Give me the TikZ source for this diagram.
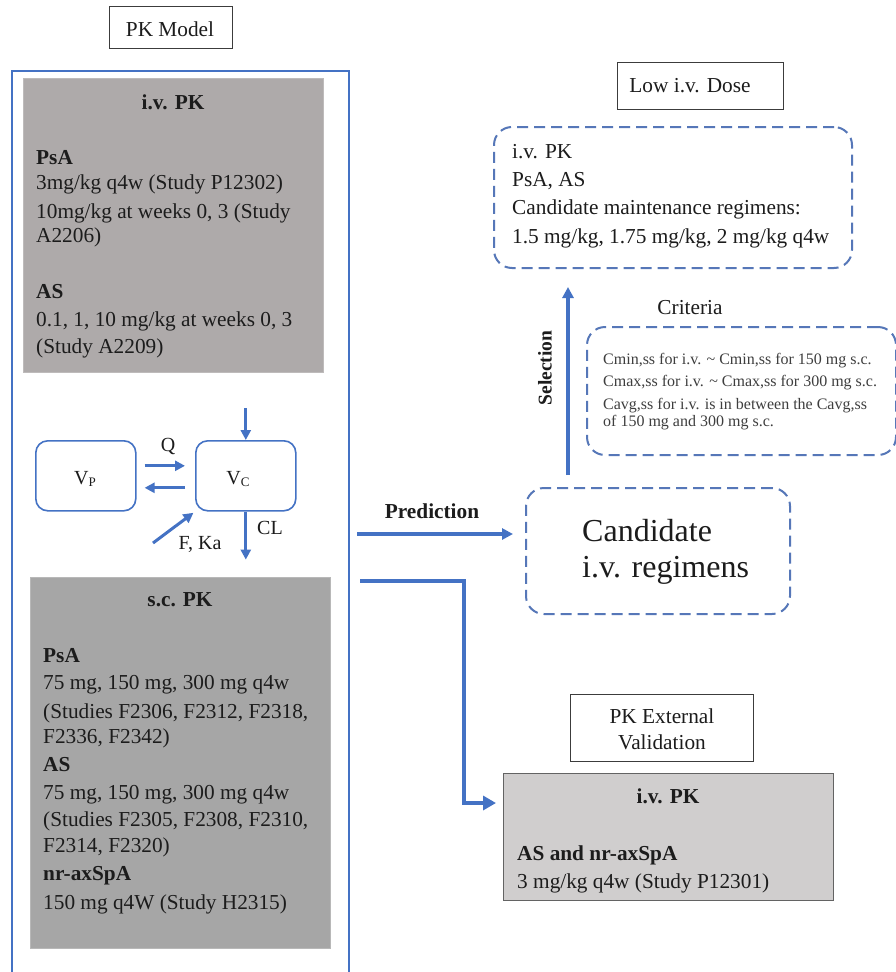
\documentclass[tikz,border=0pt]{standalone}
\usepackage{fontspec}
\setmainfont{Liberation Serif}
\usetikzlibrary{arrows.meta,calc}

\definecolor{lineblue}{HTML}{4472C4}
\definecolor{dashblue}{HTML}{5677B8}
\definecolor{ivgray}{HTML}{AEAAAA}
\definecolor{scgray}{HTML}{A6A6A6}
\definecolor{extgray}{HTML}{D0CECE}
\definecolor{ink}{HTML}{1C1C1C}
\definecolor{frame}{HTML}{3C3C3C}

\newcommand{\fsn}{\fontsize{21.3}{25}\selectfont}
\newcommand{\fsbig}{\fontsize{32}{36}\selectfont}
\newcommand{\fssmall}{\fontsize{16}{18}\selectfont}
\newcommand{\subP}[1]{\raisebox{-2pt}{\fontsize{13}{13}\selectfont #1}}

\tikzset{
  boxat/.style 2 args={anchor=north west, inner sep=0pt, minimum width=#1, minimum height=#2},
  titlebox/.style={draw=frame, line width=1.1pt, fill=white},
  dashbox/.style={draw=dashblue, line width=2pt, dash pattern=on 11pt off 6pt, rounded corners=18pt},
  compbox/.style={draw=lineblue, line width=1.6pt, rounded corners=12pt, fill=white},
  txt/.style={anchor=base west, inner sep=0pt, text=ink, font=\fsn},
  ctxt/.style={anchor=base, inner sep=0pt, text=ink, font=\fsn},
  arrs/.style={draw=lineblue, line width=3pt, -{Triangle[length=10pt,width=10pt]}},
  arrb/.style={draw=lineblue, line width=3.2pt, -{Triangle[length=11pt,width=11pt]}},
  arrl/.style={draw=lineblue, line width=3.6pt, -{Triangle[length=13pt,width=14pt]}},
}

\begin{document}
\begin{tikzpicture}[x=1pt,y=-1pt]
\useasboundingbox[fill=white] (0,0) rectangle (896,972);

% ---------- PK model column ----------
\node[titlebox, boxat={123pt}{42pt}] (pkm) at (109,6) {};
\node[ctxt] at (170,36) {PK Model};

\node[draw=lineblue, line width=1.8pt, boxat={337pt}{940pt}] (model) at (11,70) {};

% i.v. PK data
\node[fill=ivgray, draw=ivgray!80!white, line width=0.6pt, boxat={300pt}{294pt}] (ivbox) at (23,78) {};
\node[ctxt, font=\fsn\bfseries] at (173,109) {i.v. PK};
\node[txt, font=\fsn\bfseries] at (36,164) {PsA};
\node[txt] at (36,189) {3mg/kg q4w (Study P12302)};
\node[txt] at (36,218) {10mg/kg at weeks 0, 3 (Study};
\node[txt] at (36,242) {A2206)};
\node[txt, font=\fsn\bfseries] at (36,298) {AS};
\node[txt] at (36,326) {0.1, 1, 10 mg/kg at weeks 0, 3};
\node[txt] at (36,353) {(Study A2209)};

% two-compartment structure
\node[compbox, boxat={100pt}{70pt}] (vp) at (35,440) {};
\node[compbox, boxat={100pt}{70pt}] (vc) at (195,440) {};
\node[ctxt, font=\fontsize{20}{22}\selectfont] at (85,484) {V\subP{P}};
\node[ctxt, font=\fontsize{20}{22}\selectfont] at (238,484) {V\subP{C}};
\node[ctxt, font=\fontsize{20}{22}\selectfont] at (168,451) {Q};
\node[ctxt, font=\fontsize{20}{22}\selectfont] at (200,549) {F, Ka};
\node[ctxt, font=\fontsize{20}{22}\selectfont] at (270,534) {CL};

\draw[arrs, shorten <=8pt, shorten >=10pt] ([yshift=10pt]vp.east) -- ([yshift=10pt]vc.west);
\draw[arrs, shorten <=10pt, shorten >=8pt] ([yshift=-12pt]vc.west) -- ([yshift=-12pt]vp.east);
\draw[arrs] ([yshift=32pt]vc.north) -- (vc.north);
\draw[arrs] (vc.south) -- ([yshift=-48pt]vc.south);
\coordinate (fka) at (153,543);
\draw[arrs, shorten >=2pt] (fka) -- (vc.south west);

% s.c. PK data
\node[fill=scgray, draw=scgray!80!white, line width=0.6pt, boxat={300pt}{371pt}] (scbox) at (30,577) {};
\node[ctxt, font=\fsn\bfseries] at (180,606) {s.c. PK};
\node[txt, font=\fsn\bfseries] at (43,662) {PsA};
\node[txt] at (43,689) {75 mg, 150 mg, 300 mg q4w};
\node[txt] at (43,718) {(Studies F2306, F2312, F2318,};
\node[txt] at (43,743) {F2336, F2342)};
\node[txt, font=\fsn\bfseries] at (43,771) {AS};
\node[txt] at (43,799) {75 mg, 150 mg, 300 mg q4w};
\node[txt] at (43,826) {(Studies F2305, F2308, F2310,};
\node[txt] at (43,852) {F2314, F2320)};
\node[txt, font=\fsn\bfseries] at (43,880) {nr-axSpA};
\node[txt] at (43,909) {150 mg q4W (Study H2315)};

% ---------- low i.v. dose selection ----------
\node[titlebox, boxat={166pt}{47pt}] (lowdose) at (617,62) {};
\node[ctxt] at (690,92) {Low i.v. Dose};

\node[dashbox, boxat={358pt}{141pt}] (ivlow) at (493,126) {};
\node[txt] at (512,158) {i.v. PK};
\node[txt] at (512,186) {PsA, AS};
\node[txt] at (512,214) {Candidate maintenance regimens:};
\node[txt] at (512,243) {1.5 mg/kg, 1.75 mg/kg, 2 mg/kg q4w};

\node[ctxt] at (690,314) {Criteria};
\node[dashbox, boxat={309pt}{128pt}] (crit) at (586,326) {};
\node[txt, font=\fssmall, text=ink!85!white] at (603,364.5) {Cmin,ss for i.v. \textasciitilde\ Cmin,ss for 150 mg s.c.};
\node[txt, font=\fssmall, text=ink!85!white] at (603,386.5) {Cmax,ss for i.v. \textasciitilde\ Cmax,ss for 300 mg s.c.};
\node[txt, font=\fssmall, text=ink!85!white] at (603,409) {Cavg,ss for i.v. is in between the Cavg,ss};
\node[txt, font=\fssmall, text=ink!85!white] at (603,426.5) {of 150 mg and 300 mg s.c.};

\node[dashbox, boxat={264pt}{126pt}] (cand) at (525,487) {};
\node[txt, font=\fsbig] at (582,541) {Candidate};
\node[txt, font=\fsbig] at (582,577) {i.v. regimens};

\coordinate (selx) at (568,0);
\draw[arrb, shorten <=12pt, shorten >=18pt] (cand.north -| selx) -- (ivlow.south -| selx);
\node[inner sep=0pt, rotate=90, text=ink, font=\fontsize{19.5}{21}\selectfont\bfseries] at (545,368) {Selection};

\coordinate (predA) at (357,534);
\draw[arrb, shorten >=12pt] (predA) -- (predA -| cand.west);
\node[ctxt, font=\fsn\bfseries] at (432,518) {Prediction};

% ---------- external validation ----------
\node[titlebox, boxat={183pt}{67pt}] (extval) at (570,694) {};
\node[ctxt] at (662,723) {PK External};
\node[ctxt] at (662,749) {Validation};

\node[fill=extgray, draw=frame!80!white, line width=1.3pt, boxat={330pt}{127pt}] (extpk) at (503,773) {};
\node[ctxt, font=\fsn\bfseries] at (668,803) {i.v. PK};
\node[txt, font=\fsn\bfseries] at (517,860) {AS and nr-axSpA};
\node[txt] at (517,888) {3 mg/kg q4w (Study P12301)};

\coordinate (valA) at (360,581);
\coordinate (valB) at (464,803);
\draw[arrl, shorten >=7pt] (valA) -- (valA -| valB) -- (valB) -- (valB -| extpk.west);
\end{tikzpicture}
\end{document}
